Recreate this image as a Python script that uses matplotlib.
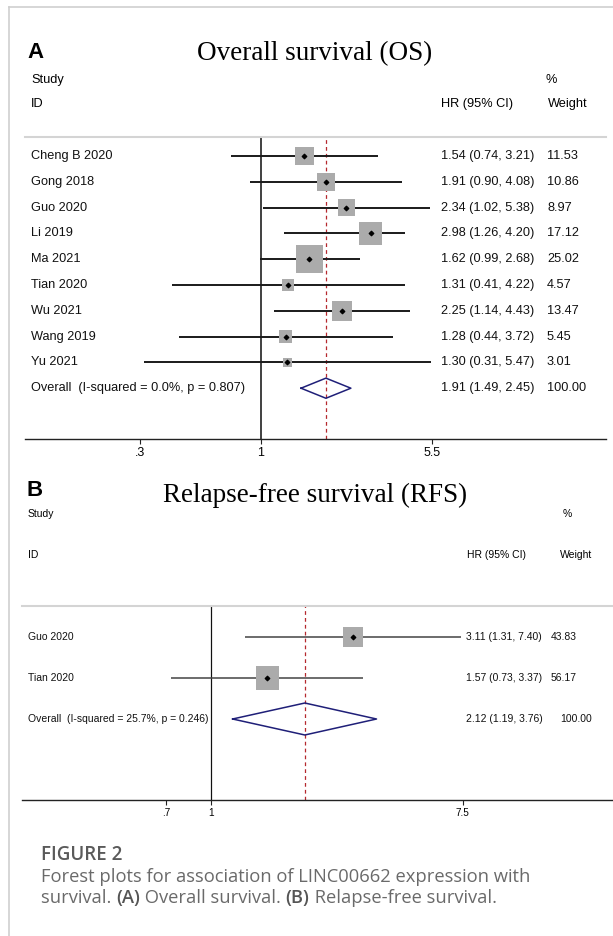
import numpy as np
import matplotlib.pyplot as plt
from matplotlib.lines import Line2D
from matplotlib.ticker import NullLocator
from matplotlib.transforms import blended_transform_factory

# ---- data: overall survival (A)
os_study = ["Cheng B 2020", "Gong 2018", "Guo 2020", "Li 2019", "Ma 2021",
            "Tian 2020", "Wu 2021", "Wang 2019", "Yu 2021"]
os_hr = [1.54, 1.91, 2.34, 2.98, 1.62, 1.31, 2.25, 1.28, 1.30]
os_lo = [0.74, 0.90, 1.02, 1.26, 0.99, 0.41, 1.14, 0.44, 0.31]
os_hi = [3.21, 4.08, 5.38, 4.20, 2.68, 4.22, 4.43, 3.72, 5.47]
os_wt = [11.53, 10.86, 8.97, 17.12, 25.02, 4.57, 13.47, 5.45, 3.01]
os_pool = [1.91, 1.49, 2.45]
os_het = "Overall  (I-squared = 0.0%, p = 0.807)"
os_ticks = [0.3, 1, 5.5]
os_ticklabels = [".3", "1", "5.5"]

# ---- data: relapse-free survival (B)
rfs_study = ["Guo 2020", "Tian 2020"]
rfs_hr = [3.11, 1.57]
rfs_lo = [1.31, 0.73]
rfs_hi = [7.40, 3.37]
rfs_wt = [43.83, 56.17]
rfs_pool = [2.12, 1.19, 3.76]
rfs_het = "Overall  (I-squared = 25.7%, p = 0.246)"
rfs_ticks = [0.7, 1, 7.5]
rfs_ticklabels = [".7", "1", "7.5"]

W, H = 613, 936
fig = plt.figure(figsize=(W / 100, H / 100), dpi=100)
SANS = "Liberation Sans"
SERIF = "Liberation Serif"


def fx(px):
    return px / W


def fy(py):
    return 1 - py / H


def axes_px(x0, y0, x1, y1):
    return fig.add_axes([fx(x0), fy(y1), (x1 - x0) / W, (y1 - y0) / H])


# light frame of the page
fig.add_artist(Line2D([fx(9), fx(9)], [fy(7), 0], color="#cfcfcf", lw=1.2,
                      transform=fig.transFigure))
fig.add_artist(Line2D([fx(9), 1], [fy(7), fy(7)], color="#cfcfcf", lw=1.2,
                      transform=fig.transFigure))


def panel(box, first_row, row_h, xlim, studies, hr, lo, hi, wt, pool, het,
          ticks, ticklabels, fs, cols, pool_wx, box_k, dia_h, line_col, lw):
    x0, y0, x1, y1 = box
    ax = axes_px(x0, y0, x1, y1)
    n = len(studies)
    rows = np.arange(n + 1)
    top = (y0 - first_row) / row_h
    bot = (y1 - first_row) / row_h
    ax.set_ylim(bot, top)
    ax.set_xscale("log")
    ax.set_xlim(*xlim)
    for s in ["left", "right"]:
        ax.spines[s].set_visible(False)
    ax.spines["top"].set_color("#d4d4d4")
    ax.spines["top"].set_linewidth(1.5)
    ax.spines["bottom"].set_color("#222222")
    ax.spines["bottom"].set_linewidth(1.0)
    ax.set_yticks([])
    ax.xaxis.set_minor_locator(NullLocator())
    ax.set_xticks(ticks)
    ax.set_xticklabels(ticklabels, fontsize=fs - 0.3, family=SANS)
    ax.tick_params(axis="x", length=3.5, width=0.8, pad=2, color="#222222")
    ax.patch.set_alpha(0)

    ax.axvline(1, color="#111111", lw=lw * 0.8, zorder=1)
    ax.axvline(pool[0], color="#b5282e", lw=0.9, ls=(0, (3, 2.5)), zorder=1)

    ax.hlines(rows[:n], lo, hi, color=line_col, lw=lw, zorder=2)
    side = box_k * np.sqrt(np.array(wt)) * 0.72
    ax.scatter(hr, rows[:n], marker="s", s=side ** 2, color="#ababab",
               edgecolor="none", zorder=3)
    ax.scatter(hr, rows[:n], marker="D", s=5, color="black", zorder=4)

    est, plo, phi = pool
    r = rows[n]
    ax.plot([plo, est, phi, est, plo], [r, r - dia_h, r, r + dia_h, r],
            color="#1f1f78", lw=1.1, zorder=3)

    tr = blended_transform_factory(fig.transFigure, ax.transData)
    labels = studies + [het]
    for i in range(n + 1):
        ax.text(fx(cols[0]), rows[i], labels[i], transform=tr, fontsize=fs,
                family=SANS, va="center", color="#111111")
        if i < n:
            ci = f"{hr[i]:.2f} ({lo[i]:.2f}, {hi[i]:.2f})"
            w = f"{wt[i]:.2f}"
            wx = cols[2]
        else:
            ci = f"{est:.2f} ({plo:.2f}, {phi:.2f})"
            w = "100.00"
            wx = pool_wx
        ax.text(fx(cols[1]), rows[i], ci, transform=tr, fontsize=fs,
                family=SANS, va="center", color="#111111")
        ax.text(fx(wx), rows[i], w, transform=tr, fontsize=fs,
                family=SANS, va="center", color="#111111")
    return ax


# ---- panel A
fig.text(fx(27), fy(53), "A", fontsize=16, fontweight="bold", family=SANS,
         va="center")
fig.text(fx(315), fy(54), "Overall survival (OS)", fontsize=19.5,
         family=SERIF, ha="center", va="center")
fig.text(fx(31), fy(80), "Study", fontsize=9.2, family=SANS, va="center")
fig.text(fx(545), fy(80), "%", fontsize=9.2, family=SANS, va="center")
fig.text(fx(31), fy(104), "ID", fontsize=9.2, family=SANS, va="center")
fig.text(fx(441), fy(104), "HR (95% CI)", fontsize=9.2, family=SANS, va="center")
fig.text(fx(548), fy(104), "Weight", fontsize=9.2, family=SANS, va="center")

panel((25, 137, 606, 439), 156, 25.8, (0.095, 31.2), os_study, os_hr, os_lo,
      os_hi, os_wt, os_pool, os_het, os_ticks, os_ticklabels, 9.2,
      (31, 441, 547), 547, 5.5, 0.39, "#1a1a1a", 1.4)

# ---- panel B
fig.text(fx(27), fy(490), "B", fontsize=16, fontweight="bold", family=SANS,
         va="center")
fig.text(fx(315), fy(495), "Relapse-free survival (RFS)", fontsize=19.5,
         family=SERIF, ha="center", va="center")
fig.text(fx(28), fy(514), "Study", fontsize=7.5, family=SANS, va="center")
fig.text(fx(563), fy(514), "%", fontsize=7.5, family=SANS, va="center")
fig.text(fx(28), fy(555), "ID", fontsize=7.5, family=SANS, va="center")
fig.text(fx(467), fy(555), "HR (95% CI)", fontsize=7.5, family=SANS, va="center")
fig.text(fx(560), fy(555), "Weight", fontsize=7.5, family=SANS, va="center")

panel((22, 606, 612, 800), 637, 41, (0.221, 24.7), rfs_study, rfs_hr, rfs_lo,
      rfs_hi, rfs_wt, rfs_pool, rfs_het, rfs_ticks, rfs_ticklabels, 7.5,
      (28, 466, 551), 560, 3.07, 0.39, "#444444", 1.1)

# ---- caption
CAP = "Open Sans"
fig.text(fx(41), fy(855), "FIGURE 2", fontsize=13.5, fontweight="semibold",
         family=CAP, color="#5a5a5a", va="center")
fig.text(fx(41), fy(877),
         "Forest plots for association of LINC00662 expression with",
         fontsize=13.2, family=CAP, color="#6a6a6a", va="center")

renderer = fig.canvas.get_renderer()
parts = [("survival. ", False), ("(A)", True), (" Overall survival. ", False),
         ("(B)", True), (" Relapse-free survival.", False)]
x = 41
for s, b in parts:
    t = fig.text(fx(x), fy(898), s, fontsize=13.2, family=CAP,
                 fontweight="semibold" if b else "normal",
                 color="#555555" if b else "#6a6a6a", va="center")
    bb = t.get_window_extent(renderer)
    x = bb.x1

fig.savefig("out.png", dpi=100)
